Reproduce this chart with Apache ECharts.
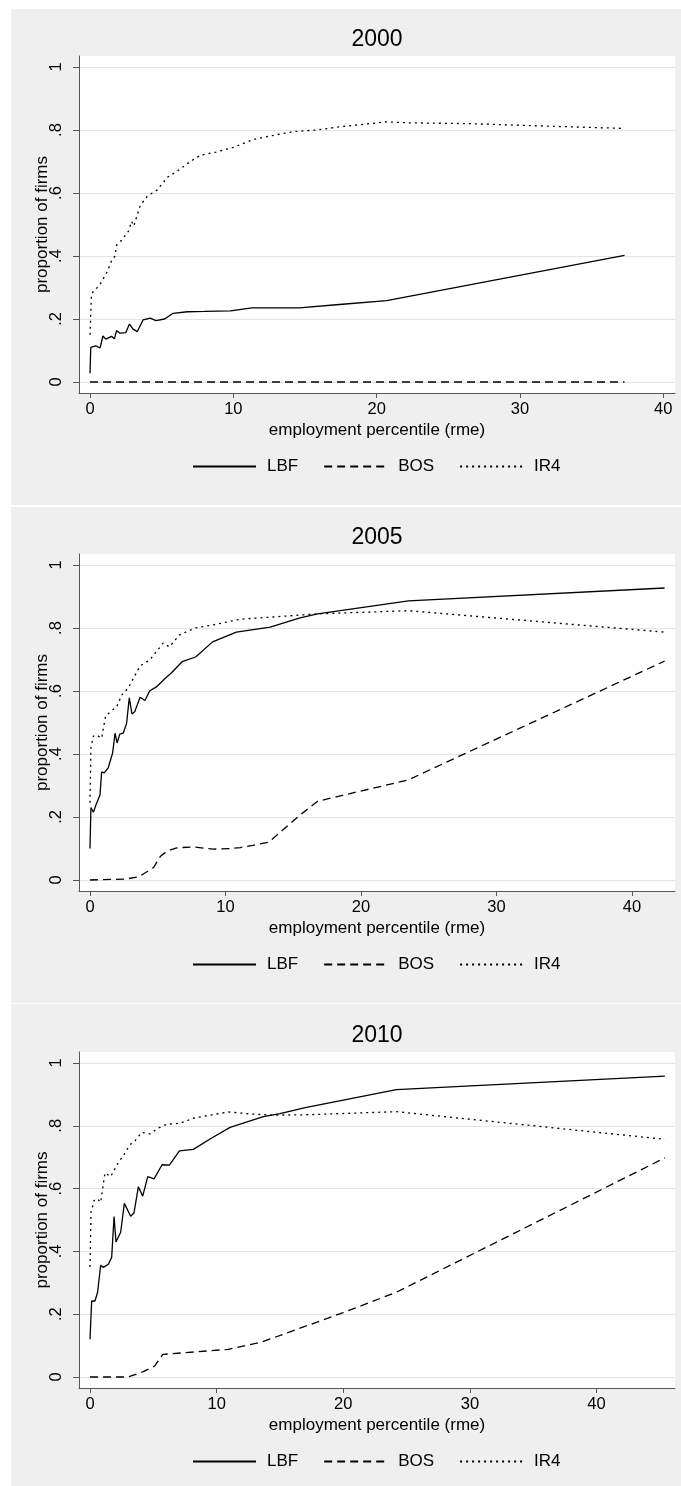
<!DOCTYPE html>
<html><head><meta charset="utf-8">
<script src="https://cdn.jsdelivr.net/npm/echarts@6/dist/echarts.min.js"></script>
<style>html,body{margin:0;padding:0;background:#fff}#c{width:681px;height:1486px}</style>
</head><body><div id="c"></div>
<script>
// ---------- DATA ----------
const panelTitles = ['2000', '2005', '2010'];
const seriesNames = ['LBF', 'BOS', 'IR4'];
const xTickValues = [0, 10, 20, 30, 40];
const yTickValues = [0, 0.2, 0.4, 0.6, 0.8, 1];
const xAxisTitle = 'employment percentile (rme)';
const yAxisTitle = 'proportion of firms';

// 2000
const lbf2000X = [0, 0.05, 0.4, 0.7, 0.9, 1.1, 1.5, 1.7, 1.85, 2.1, 2.5, 2.75, 3.0, 3.3, 3.7, 4.2, 4.6, 5.2, 5.8, 6.8, 8.0, 9.8, 11.3, 14.6, 17.4, 20.7, 37.3];
const lbf2000Y = [0.028, 0.11, 0.115, 0.108, 0.146, 0.136, 0.145, 0.137, 0.163, 0.155, 0.157, 0.184, 0.168, 0.16, 0.197, 0.203, 0.195, 0.2, 0.218, 0.223, 0.224, 0.226, 0.235, 0.235, 0.246, 0.258, 0.402];
const bos2000X = [0, 5, 10, 20.7, 37.3];
const bos2000Y = [0, 0, 0, 0, 0];
const ir42000X = [0, 0.1, 0.7, 1.2, 1.5, 1.74, 1.86, 2.2, 2.7, 2.9, 3.05, 3.5, 4.0, 4.7, 5.4, 6.1, 7.0, 7.7, 8.8, 10, 11.4, 13, 14.2, 15.8, 17.4, 20.7, 22.1, 26.7, 31.4, 37.3];
const ir42000Y = [0.15, 0.28, 0.31, 0.35, 0.385, 0.40, 0.435, 0.45, 0.48, 0.51, 0.495, 0.56, 0.59, 0.61, 0.65, 0.67, 0.70, 0.72, 0.73, 0.745, 0.77, 0.785, 0.795, 0.80, 0.81, 0.826, 0.823, 0.82, 0.813, 0.805];

// 2005
const lbf2005X = [0, 0.07, 0.25, 0.44, 0.74, 0.86, 1.05, 1.34, 1.67, 1.85, 2.0, 2.2, 2.45, 2.7, 2.9, 3.1, 3.3, 3.7, 4.06, 4.4, 4.9, 5.5, 6.0, 6.8, 7.8, 9.05, 10.8, 13.3, 15.5, 16.8, 23.5, 42.4];
const lbf2005Y = [0.1, 0.23, 0.215, 0.238, 0.27, 0.343, 0.34, 0.355, 0.403, 0.466, 0.435, 0.463, 0.466, 0.497, 0.578, 0.527, 0.534, 0.58, 0.57, 0.6, 0.613, 0.638, 0.657, 0.693, 0.708, 0.756, 0.787, 0.803, 0.832, 0.845, 0.886, 0.927];
const bos2005X = [0, 2.65, 3.6, 4.7, 5.2, 5.7, 6.4, 7.6, 9.1, 10.4, 11.1, 12, 13.2, 15.5, 16.8, 23.5, 42.4];
const bos2005Y = [0, 0.003, 0.01, 0.04, 0.075, 0.092, 0.102, 0.105, 0.098, 0.1, 0.103, 0.11, 0.12, 0.206, 0.25, 0.318, 0.695];
const ir42005X = [0, 0.07, 0.25, 0.5, 0.86, 1.15, 1.48, 1.97, 2.34, 2.83, 3.7, 4.4, 5.4, 5.86, 6.6, 7.75, 9.1, 11.1, 13.5, 16.8, 23.5, 42.4];
const ir42005Y = [0.245, 0.42, 0.457, 0.46, 0.45, 0.52, 0.533, 0.55, 0.587, 0.61, 0.68, 0.698, 0.752, 0.74, 0.778, 0.80, 0.81, 0.828, 0.835, 0.845, 0.855, 0.787];

// 2010
const lbf2010X = [0, 0.13, 0.39, 0.6, 0.84, 1.05, 1.45, 1.71, 1.9, 2.05, 2.42, 2.71, 3.21, 3.47, 3.82, 4.16, 4.56, 5.06, 5.69, 6.27, 7.06, 8.16, 9.48, 11.06, 13.69, 15.0, 17, 24.2, 45.4];
const lbf2010Y = [0.12, 0.242, 0.242, 0.27, 0.356, 0.349, 0.359, 0.381, 0.511, 0.43, 0.461, 0.553, 0.512, 0.522, 0.606, 0.576, 0.638, 0.631, 0.676, 0.675, 0.72, 0.725, 0.758, 0.795, 0.829, 0.839, 0.858, 0.915, 0.958];
const bos2010X = [0, 3.0, 4.2, 5.1, 5.75, 5.9, 8.3, 10.9, 13.6, 20, 24.2, 45.4];
const bos2010Y = [0, 0, 0.017, 0.035, 0.072, 0.068, 0.08, 0.088, 0.112, 0.205, 0.27, 0.698];
const ir42010X = [0, 0.08, 0.32, 0.58, 0.84, 1.18, 1.63, 2.16, 2.63, 3.16, 3.55, 4.08, 4.74, 5.4, 6.06, 7.1, 8.16, 9.48, 10.93, 12.9, 14.5, 17, 24.2, 45.4];
const ir42010Y = [0.35, 0.525, 0.562, 0.568, 0.556, 0.65, 0.638, 0.678, 0.705, 0.74, 0.752, 0.779, 0.774, 0.793, 0.805, 0.808, 0.824, 0.834, 0.844, 0.837, 0.834, 0.835, 0.845, 0.757];

const panelSeriesData = [
  [[lbf2000X, lbf2000Y], [bos2000X, bos2000Y], [ir42000X, ir42000Y]],
  [[lbf2005X, lbf2005Y], [bos2005X, bos2005Y], [ir42005X, ir42005Y]],
  [[lbf2010X, lbf2010Y], [bos2010X, bos2010Y], [ir42010X, ir42010Y]]
];

// ---------- LAYOUT / STYLE ----------
const FONT = '"Liberation Sans", Arial, Helvetica, sans-serif';
const panelTop = [9, 507, 1004];
const panelHeight = [496, 496, 482];
const gridTop = [56, 554, 1052];
const gridHeight = [337, 337, 336];
const xRange = [[-0.77, 40.82], [-0.81, 43.17], [-0.87, 46.2]];
const lineTypes = ['solid', [8, 5], [2, 4]];

const chart = echarts.init(document.getElementById('c'), null, {renderer: 'canvas'});

const grids = [], xAxes = [], yAxes = [], series = [], legends = [], graphics = [];
for (let p = 0; p < 3; p++) {
  graphics.push({type: 'rect', z: -10, silent: true,
    shape: {x: 11, y: panelTop[p], width: 670, height: panelHeight[p]},
    style: {fill: '#efefef'}});
  graphics.push({type: 'text', z: 10, silent: true, x: 377, y: gridTop[p] - 16.5,
    style: {text: panelTitles[p], font: '23px ' + FONT, fill: '#000', align: 'center', verticalAlign: 'middle'}});
  grids.push({left: 79, width: 596, top: gridTop[p], height: gridHeight[p], show: true,
    backgroundColor: '#fff', borderWidth: 0, containLabel: false, outerBoundsMode: 'none'});
  xAxes.push({type: 'value', gridIndex: p, min: xRange[p][0], max: xRange[p][1],
    name: xAxisTitle, nameLocation: 'middle', nameGap: 29, nameMoveOverlap: false,
    nameTextStyle: {fontSize: 17, fontFamily: FONT, color: '#000'},
    axisLine: {show: true, onZero: false, lineStyle: {color: '#555', width: 1}},
    axisTick: {show: true, inside: false, length: 5, customValues: xTickValues, lineStyle: {color: '#555'}},
    axisLabel: {show: true, customValues: xTickValues, margin: 8, fontSize: 16.5, fontFamily: FONT, color: '#000'},
    splitLine: {show: false}});
  yAxes.push({type: 'value', gridIndex: p, min: -0.035, max: 1.035,
    name: yAxisTitle, nameLocation: 'middle', nameGap: 28, nameRotate: 90, nameMoveOverlap: false,
    nameTextStyle: {fontSize: 17, fontFamily: FONT, color: '#000'},
    axisLine: {show: true, onZero: false, lineStyle: {color: '#555', width: 1}},
    axisTick: {show: true, inside: false, length: 6, customValues: yTickValues, lineStyle: {color: '#555'}},
    axisLabel: {show: true, customValues: yTickValues, rotate: 90, margin: 14, fontSize: 16.5, fontFamily: FONT, color: '#000',
      formatter: v => (v === 0 ? '0' : (v === 1 ? '1' : '.' + Math.round(v * 10)))},
    splitLine: {show: true, lineStyle: {color: '#e4e4e4', width: 1}}});
  for (let s = 0; s < 3; s++) {
    const [xs, ys] = panelSeriesData[p][s];
    series.push({type: 'line', name: seriesNames[s], xAxisIndex: p, yAxisIndex: p,
      data: xs.map((x, i) => [x, ys[i]]), symbol: 'none', showSymbol: false, smooth: false,
      silent: true, animation: false,
      lineStyle: {color: '#000', width: 1.3, type: lineTypes[s]},
      itemStyle: {color: '#000'}});
  }
  legends.push({show: true, data: seriesNames, orient: 'horizontal', left: 192, top: panelTop[p] + 449,
    padding: 0, itemWidth: 63, itemHeight: 14, itemGap: 25, selectedMode: false,
    itemStyle: {opacity: 0},
    textStyle: {fontSize: 17, fontFamily: FONT, color: '#000', padding: [0, 0, 0, 6]}});
}

chart.setOption({
  backgroundColor: '#fff',
  animation: false,
  textStyle: {fontFamily: FONT},
  grid: grids, xAxis: xAxes, yAxis: yAxes, series: series, legend: legends,
  graphic: {elements: graphics}
});
</script></body></html>
